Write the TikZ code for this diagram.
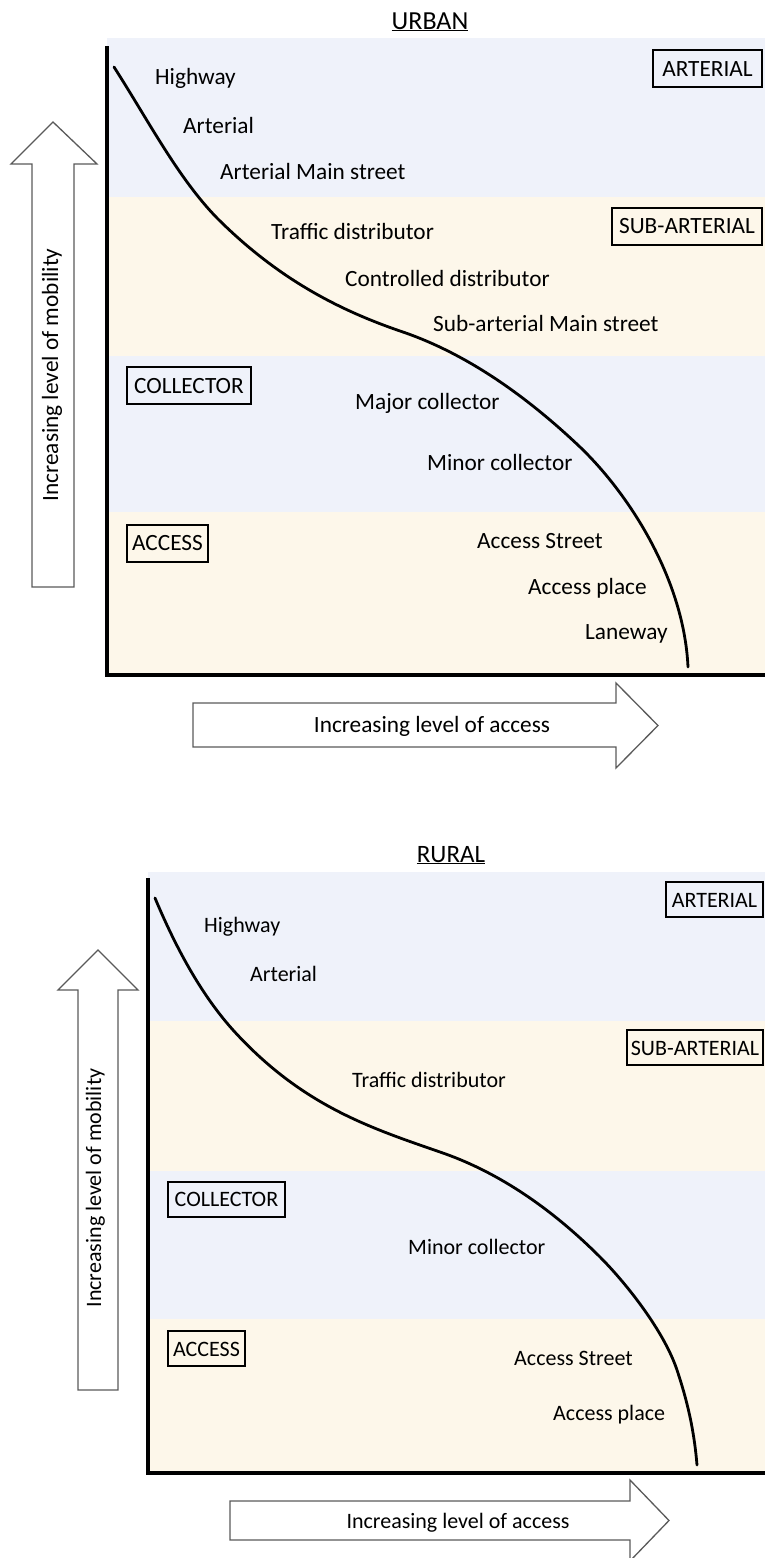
\documentclass[tikz,border=0pt]{standalone}
\usepackage{fontspec}
\setmainfont{Carlito}
\definecolor{bandblue}{RGB}{239,242,250}
\definecolor{bandtan}{RGB}{253,247,234}
\definecolor{arrowgray}{RGB}{90,90,90}
\tikzset{
  lbl/.style={anchor=west, inner sep=0pt, text height=16pt, text depth=2pt},
  classbox/.style={draw, line width=2pt, inner xsep=2pt, inner ysep=0pt,
    text height=15pt, text depth=0pt, minimum height=37pt},
  blockarrow/.style={draw=arrowgray, line width=1.3pt, fill=white},
  axisline/.style={line width=3.5pt},
  roadcurve/.style={line width=2.8pt, line cap=round},
}
\begin{document}
\begin{tikzpicture}[x=1pt, y=-1pt, font=\fontsize{23.3}{27}\selectfont]
  \useasboundingbox (0,0) rectangle (765,1558);

  % urban
  \fill[bandblue] (107,38) rectangle (765,197);
  \fill[bandtan] (107,197) rectangle (765,356);
  \fill[bandblue] (107,356) rectangle (765,512);
  \fill[bandtan] (107,512) rectangle (765,675);
  \draw[axisline] (107,46) -- (107,675) -- (765,675);
  \node[anchor=base, font=\fontsize{26}{30}\selectfont] (utitle) at (430,29)
    {\underline{URBAN}};

  \draw[blockarrow] (32,587) -- (32,164) -- (11,164) -- (53,122) -- (97,164)
    -- (74,164) -- (74,587) -- cycle;
  \node[rotate=90, inner sep=0pt, text height=16pt, text depth=2pt] (umob)
    at (51,375) {Increasing level of mobility};
  \draw[blockarrow] (193,703) -- (616,703) -- (616,683) -- (658,725.5)
    -- (616,768) -- (616,747) -- (193,747) -- cycle;
  \node[inner sep=0pt, text height=16pt, text depth=2pt] (uacc)
    at (432,725) {Increasing level of access};

  \draw[roadcurve] (114,67) .. controls (148,120) and (178,178) .. (217,218)
    .. controls (278,279) and (339,310) .. (400,331)
    .. controls (460,351) and (520,390) .. (580,447)
    .. controls (630,495) and (684,580) .. (688,667);

  \node[classbox, minimum width=109pt] (uart) at (707.5,68.5) {ARTERIAL};
  \node[classbox, minimum width=150pt] (usub) at (687,226) {SUB-ARTERIAL};
  \node[classbox, minimum width=124pt] (ucol) at (189,385.5) {COLLECTOR};
  \node[classbox, minimum width=81pt] (uaccs) at (167.5,543) {ACCESS};

  \node[lbl] (uhwy) at (155,77) {Highway};
  \node[lbl] (uarl) at (183,126) {Arterial};
  \node[lbl] (uams) at (220,172) {Arterial Main street};
  \node[lbl] (utd) at (271,232) {Traffic distributor};
  \node[lbl] (ucd) at (345,279) {Controlled distributor};
  \node[lbl] (usms) at (433,324) {Sub-arterial Main street};
  \node[lbl] (umaj) at (355,402) {Major collector};
  \node[lbl] (umin) at (427,463) {Minor collector};
  \node[lbl] (uast) at (477,541) {Access Street};
  \node[lbl] (uapl) at (528,587) {Access place};
  \node[lbl] (ulane) at (585,632) {Laneway};

  % rural
  \begin{scope}[font=\fontsize{22}{26}\selectfont]
  \fill[bandblue] (148,872) rectangle (765,1021);
  \fill[bandtan] (148,1021) rectangle (765,1171);
  \fill[bandblue] (148,1171) rectangle (765,1319);
  \fill[bandtan] (148,1319) rectangle (765,1473);
  \draw[axisline] (148,878) -- (148,1473) -- (765,1473);
  \node[anchor=base, font=\fontsize{25}{29}\selectfont] (rtitle) at (451,862)
    {\underline{RURAL}};

  \draw[blockarrow] (78,1390) -- (78,990) -- (58,990) -- (98,950) -- (138,990)
    -- (118,990) -- (118,1390) -- cycle;
  \node[rotate=90, inner sep=0pt, text height=16pt, text depth=2pt] (rmob)
    at (94,1188) {Increasing level of mobility};
  \draw[blockarrow] (230,1501) -- (630,1501) -- (630,1480) -- (669,1520.5)
    -- (630,1561) -- (630,1540) -- (230,1540) -- cycle;
  \node[inner sep=0pt, text height=16pt, text depth=2pt] (racc)
    at (458,1521) {Increasing level of access};

  \draw[roadcurve] (155,898) .. controls (181,960) and (207,1001) .. (233,1030)
    .. controls (302,1106) and (371,1128) .. (440,1152)
    .. controls (493,1170) and (547,1204) .. (600,1257)
    .. controls (626,1283) and (664,1331) .. (677,1370)
    .. controls (687,1400) and (694,1429) .. (697,1465);

  \node[classbox, minimum width=97pt, minimum height=35pt] (rart)
    at (714.5,899.5) {ARTERIAL};
  \node[classbox, minimum width=136pt, minimum height=35pt] (rsub)
    at (695,1047.5) {SUB-ARTERIAL};
  \node[classbox, minimum width=117pt, minimum height=35pt] (rcol)
    at (226.5,1199) {COLLECTOR};
  \node[classbox, minimum width=77pt, minimum height=35pt] (raccs)
    at (206.5,1348.5) {ACCESS};

  \node[lbl] (rhwy) at (204,925) {Highway};
  \node[lbl] (rarl) at (250,974) {Arterial};
  \node[lbl] (rtd) at (352,1080) {Traffic distributor};
  \node[lbl] (rmin) at (408,1247) {Minor collector};
  \node[lbl] (rast) at (514,1358) {Access Street};
  \node[lbl] (rapl) at (553,1413) {Access place};
  \end{scope}
\end{tikzpicture}
\end{document}
